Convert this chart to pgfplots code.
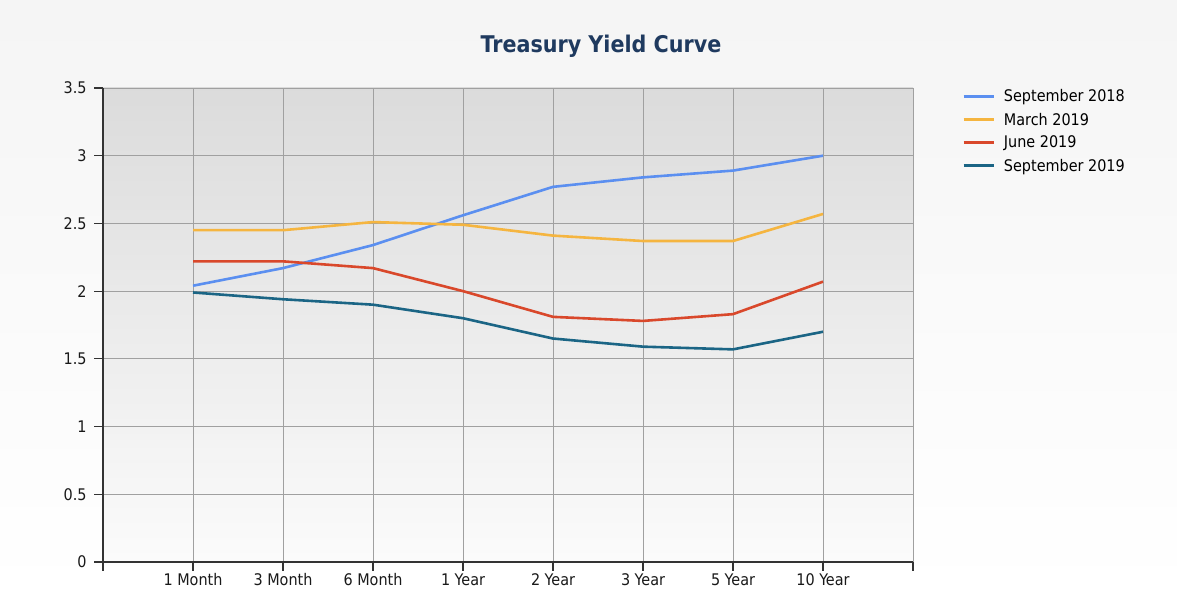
\documentclass[border=0pt]{standalone}
\usepackage{fontspec}
\setmainfont{DejaVu Sans Condensed}
\usepackage{pgfplots}
\pgfplotsset{compat=1.18}
\definecolor{sepA}{HTML}{5B8FF0}
\definecolor{marB}{HTML}{F5B540}
\definecolor{junC}{HTML}{D9482B}
\definecolor{sepD}{HTML}{1B6585}
\definecolor{titlec}{HTML}{1F3A5F}
\definecolor{gridc}{HTML}{A0A0A0}
\definecolor{axisc}{HTML}{333333}

\begin{document}
\begin{tikzpicture}[x=1bp,y=1bp]
  % page background
  \shade[top color=black!4, bottom color=white] (0,0) rectangle (1177,594);
  \node[font=\fontsize{23bp}{26bp}\selectfont\bfseries, text=titlec] at (601,548) {Treasury Yield Curve};
  \begin{axis}[
    at={(103bp,32bp)}, anchor=south west,
    scale only axis, width=810bp, height=474bp,
    xmin=0, xmax=9, ymin=0, ymax=3.5,
    xtick={0,...,9},
    xticklabels={,1 Month,3 Month,6 Month,1 Year,2 Year,3 Year,5 Year,10 Year,},
    ytick={0,0.5,...,3.5},
    grid=major,
    major grid style={gridc, line width=0.8bp},
    axis x line*=bottom, axis y line*=left,
    axis line style={axisc, line width=1.1bp, -},
    tick align=outside,
    major tick length=9bp,
    tick style={axisc, line width=1.1bp},
    ticklabel style={font=\fontsize{16bp}{18bp}\selectfont, text=black!90},
    xticklabel style={yshift=1bp},
    yticklabel style={xshift=-4bp},
    /pgf/number format/assume math mode=true,
    axis background/.style={shade, top color=black!14, bottom color=black!1.5},
    legend style={at={(1.057,1.005)}, anchor=north west, draw=none, fill=none,
      font=\fontsize{16bp}{18bp}\selectfont, row sep=5.5bp},
    legend cell align=left,
    legend image code/.code={\draw[#1, line width=2.6bp] (0bp,0bp) -- (30bp,0bp); \path (37bp,0bp);},
    every axis plot/.append style={line width=2.6bp, mark=none},
  ]
  \addplot[sepA] coordinates {(1,2.04) (2,2.17) (3,2.34) (4,2.56) (5,2.77) (6,2.84) (7,2.89) (8,3.00)};
  \addlegendentry{September 2018}
  \addplot[marB] coordinates {(1,2.45) (2,2.45) (3,2.51) (4,2.49) (5,2.41) (6,2.37) (7,2.37) (8,2.57)};
  \addlegendentry{March 2019}
  \addplot[junC] coordinates {(1,2.22) (2,2.22) (3,2.17) (4,2.00) (5,1.81) (6,1.78) (7,1.83) (8,2.07)};
  \addlegendentry{June 2019}
  \addplot[sepD] coordinates {(1,1.99) (2,1.94) (3,1.90) (4,1.80) (5,1.65) (6,1.59) (7,1.57) (8,1.70)};
  \addlegendentry{September 2019}
  \end{axis}
\end{tikzpicture}
\end{document}
